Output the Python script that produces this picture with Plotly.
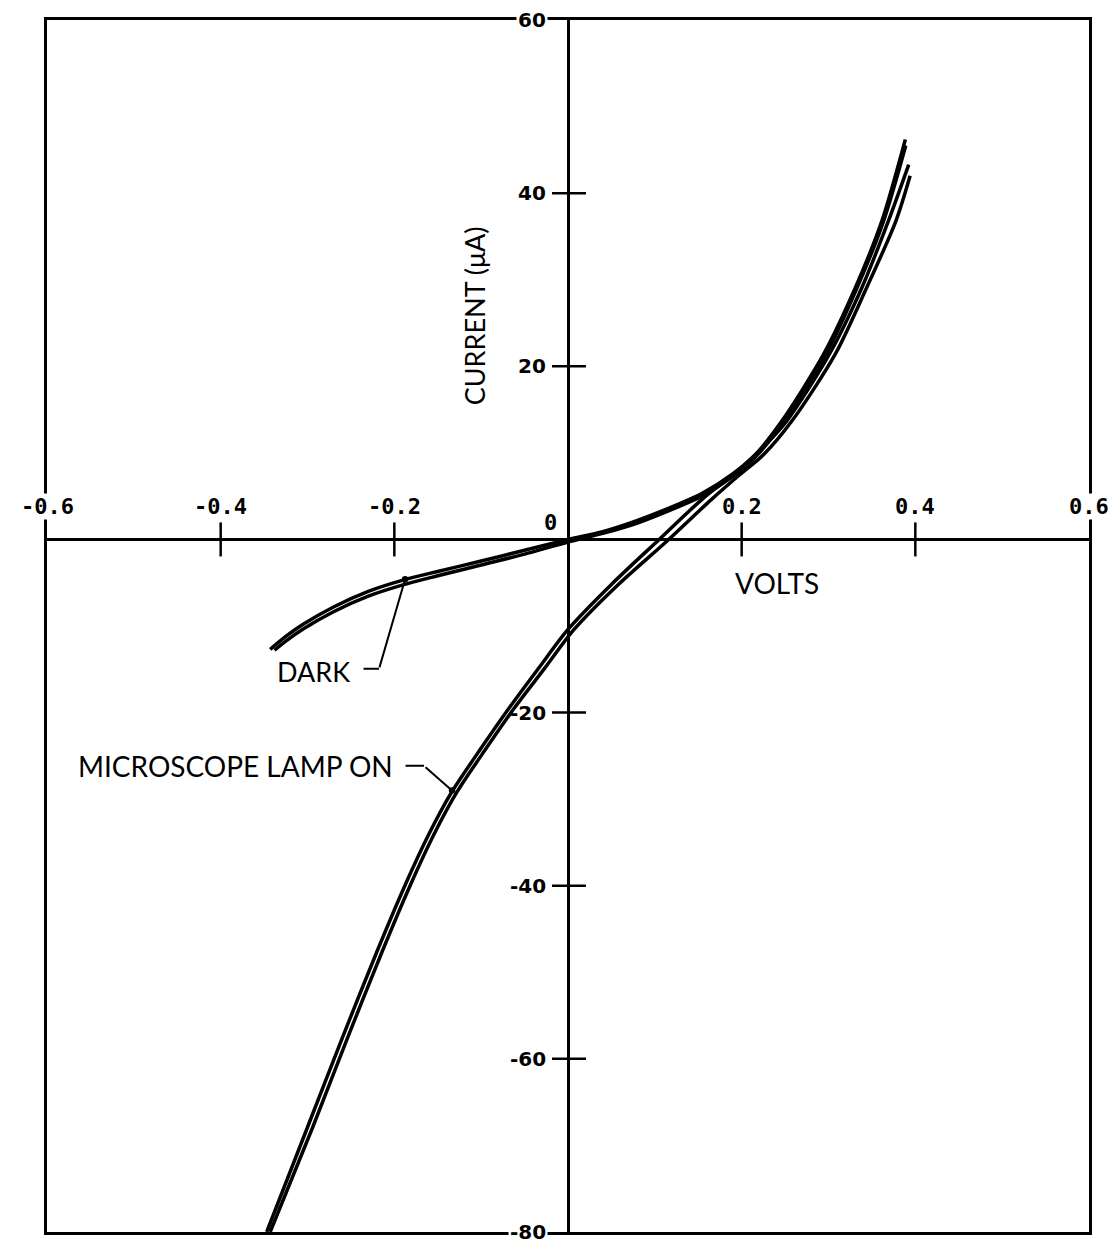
import plotly.graph_objects as go

# ---------------- data ----------------
# Dark characteristic: two traces (forward / reverse sweep)
dark_fwd_v = [-0.343, -0.325, -0.305, -0.27, -0.23, -0.19, -0.15, -0.10, -0.05, 0.0, 0.04, 0.08, 0.13, 0.154, 0.19, 0.2157, 0.2464, 0.2944, 0.331, 0.3615, 0.3885]
dark_fwd_i = [-12.7, -11.2, -9.8, -7.8, -6.0, -4.7, -3.7, -2.5, -1.25, 0.0, 0.9, 2.2, 4.2, 5.3, 7.6, 9.8, 13.7, 21.4, 29.1, 36.8, 46.2]
dark_rev_v = [-0.338, -0.325, -0.305, -0.27, -0.23, -0.19, -0.15, -0.10, -0.05, 0.0, 0.04, 0.08, 0.13, 0.154, 0.19, 0.2185, 0.249, 0.297, 0.333, 0.3635, 0.389]
dark_rev_i = [-12.8, -11.75, -10.35, -8.35, -6.55, -5.25, -4.2, -2.95, -1.7, -0.3, 0.7, 1.9, 3.9, 5.0, 7.3, 9.8, 13.7, 21.4, 29.1, 36.8, 45.5]

# Microscope lamp on: two traces
lamp_a_v = [-0.347, -0.30, -0.26, -0.22, -0.187, -0.160, -0.134, -0.100, -0.068, -0.034, 0.0, 0.05, 0.105, 0.154, 0.19, 0.222, 0.252, 0.301, 0.3385, 0.369, 0.3924]
lamp_a_i = [-80.0, -67.9, -57.6, -47.6, -39.8, -34.0, -29.2, -24.1, -19.5, -14.9, -10.4, -5.2, 0.0, 4.6, 7.5, 10.4, 13.7, 21.4, 29.1, 36.8, 43.3]
lamp_b_v = [-0.343, -0.294, -0.254, -0.214, -0.181, -0.154, -0.128, -0.094, -0.062, -0.027, 0.007, 0.058, 0.116, 0.165, 0.198, 0.2253, 0.258, 0.3078, 0.344, 0.3777, 0.394]
lamp_b_i = [-80.0, -67.9, -57.6, -47.6, -39.8, -34.0, -29.2, -24.1, -19.5, -14.9, -10.4, -5.2, 0.0, 4.6, 7.5, 9.8, 13.7, 21.4, 29.1, 36.8, 42.0]

x_tick_vals = [-0.6, -0.4, -0.2, 0.2, 0.4, 0.6]
x_tick_text = ["-0.6", "-0.4", "-0.2", "0.2", "0.4", "0.6"]
y_tick_vals = [60, 40, 20, -20, -40, -60, -80]
y_tick_text = ["60", "40", "20", "-20", "-40", "-60", "-80"]
x_tick_marks = [-0.4, -0.2, 0.2, 0.4]
y_tick_marks = [40, 20, -20, -40, -60]

X_RANGE = [-0.6, 0.6]
Y_RANGE = [-80, 60]

NUM_FONT = "DejaVu Sans Mono"
TXT_FONT = "Lato"
TXT_SIZE = 27

fig = go.Figure()

for vx, iy in [(dark_fwd_v, dark_fwd_i), (dark_rev_v, dark_rev_i),
               (lamp_a_v, lamp_a_i), (lamp_b_v, lamp_b_i)]:
    fig.add_trace(go.Scatter(
        x=vx, y=iy, mode="lines",
        line=dict(color="black", width=3.5, shape="spline", smoothing=0.8),
        showlegend=False, hoverinfo="skip"))

fig.update_layout(
    width=1111, height=1245,
    margin=dict(l=47, r=22, t=20, b=13),
    paper_bgcolor="white", plot_bgcolor="white",
    showlegend=False,
    xaxis=dict(range=X_RANGE, showgrid=False, zeroline=True, zerolinecolor="black",
               zerolinewidth=2.5, showline=True, mirror=True, linecolor="black",
               linewidth=2.5, showticklabels=False, ticks=""),
    yaxis=dict(range=Y_RANGE, showgrid=False, zeroline=True, zerolinecolor="black",
               zerolinewidth=2.5, showline=True, mirror=True, linecolor="black",
               linewidth=2.5, showticklabels=False, ticks=""),
)

shapes = []
for v in x_tick_marks:
    shapes.append(dict(type="line", xref="x", yref="y", x0=v, x1=v,
                       ysizemode="pixel", yanchor=0, y0=-17, y1=17,
                       line=dict(color="black", width=2.5)))
for v in y_tick_marks:
    shapes.append(dict(type="line", xref="x", yref="y", y0=v, y1=v,
                       xsizemode="pixel", xanchor=0, x0=-16, x1=18,
                       line=dict(color="black", width=2.5)))
fig.update_layout(shapes=shapes)

ann = []
for v, t in zip(x_tick_vals, x_tick_text):
    edge = v in (X_RANGE[0], X_RANGE[1])
    ann.append(dict(x=v, y=0, xref="x", yref="y", text="<b>" + t + "</b>", showarrow=False,
                    yshift=33, xanchor="center", yanchor="middle",
                    bgcolor="white" if edge else None, borderpad=0,
                    font=dict(family=NUM_FONT, size=22, color="black")))
for v, t in zip(y_tick_vals, y_tick_text):
    edge = v in (Y_RANGE[0], Y_RANGE[1])
    ann.append(dict(x=0, y=v, xref="x", yref="y", text="<b>" + t + "</b>", showarrow=False,
                    xshift=-20, xanchor="right", yanchor="middle",
                    bgcolor="white" if edge else None, borderpad=1,
                    font=dict(family="DejaVu Sans", size=20, color="black")))
# origin label
ann.append(dict(x=0, y=0, xref="x", yref="y", text="<b>0</b>", showarrow=False,
                xshift=-18, yshift=17, xanchor="center", yanchor="middle",
                font=dict(family=NUM_FONT, size=22, color="black")))
# axis titles
ann.append(dict(x=-0.108, y=25.8, xref="x", yref="y", text="CURRENT (\u03bcA)",
                textangle=-90, showarrow=False,
                font=dict(family=TXT_FONT, size=TXT_SIZE, color="black")))
ann.append(dict(x=0.2407, y=-5.0, xref="x", yref="y", text="VOLTS", showarrow=False,
                font=dict(family=TXT_FONT, size=TXT_SIZE + 1, color="black")))
# curve labels
ann.append(dict(x=-0.2487, y=-15.2, xref="x", yref="y", text="DARK", showarrow=False,
                xanchor="right", yanchor="middle",
                font=dict(family=TXT_FONT, size=TXT_SIZE, color="black")))
ann.append(dict(x=-0.1992, y=-26.15, xref="x", yref="y", text="MICROSCOPE LAMP ON",
                showarrow=False, xanchor="right", yanchor="middle",
                font=dict(family=TXT_FONT, size=TXT_SIZE + 1, color="black")))
# leaders
def leader(x0, y0, x1, y1, head):
    return dict(x=x1, y=y1, ax=x0, ay=y0, xref="x", yref="y", axref="x", ayref="y",
                text="", showarrow=True, arrowhead=head, arrowsize=0.8,
                arrowwidth=2, arrowcolor="black", standoff=0, startstandoff=0)
ann.append(leader(-0.2372, -14.95, -0.2176, -14.95, 0))
ann.append(leader(-0.2176, -14.95, -0.1876, -4.6, 6))
ann.append(leader(-0.1888, -26.15, -0.1658, -26.15, 0))
ann.append(leader(-0.1658, -26.15, -0.1336, -29.0, 6))
fig.update_layout(annotations=ann)

fig.write_html("out.html")
